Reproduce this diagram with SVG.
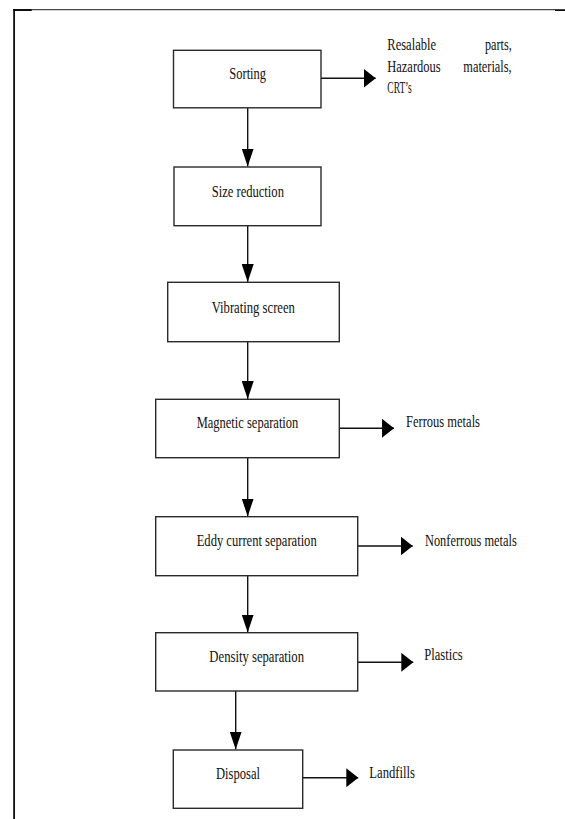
<svg xmlns="http://www.w3.org/2000/svg" width="565" height="819" viewBox="0 0 565 819">
<style>
.box{fill:#fff;stroke:#2a2a2a;stroke-width:1.4}
.ln{stroke:#111;stroke-width:1.4;fill:none}
text{font-family:"Liberation Serif","Times New Roman",serif;font-size:17px;fill:#111}
.c{text-anchor:middle}
.frame{stroke:#000;fill:none}
</style>
<defs>
<marker id="ad" markerWidth="18" markerHeight="12" refX="18" refY="6" orient="auto" markerUnits="userSpaceOnUse"><path d="M0,0 L18,6 L0,12 z" fill="#000"/></marker>
<marker id="as" markerWidth="12" markerHeight="19" refX="12" refY="9.5" orient="auto" markerUnits="userSpaceOnUse"><path d="M0,0 L12,9.5 L0,19 z" fill="#000"/></marker>
</defs>
<rect width="565" height="819" fill="#fff"/>
<g id="frame">
<line class="frame" x1="14.1" y1="9" x2="14.1" y2="819" stroke-width="1.7"/>
<line class="frame" x1="13.3" y1="9.7" x2="555" y2="9.7" stroke-width="0.9"/>
<line class="frame" x1="13.3" y1="10.1" x2="31.7" y2="10.1" stroke-width="1.7"/>
<line class="frame" x1="555" y1="10.1" x2="565" y2="10.1" stroke-width="1.7"/>
</g>
<g id="connectors">
<line class="ln" x1="247.7" y1="108" x2="247.7" y2="166.5" marker-end="url(#ad)"/>
<line class="ln" x1="247.7" y1="226" x2="247.7" y2="282" marker-end="url(#ad)"/>
<line class="ln" x1="247.7" y1="342" x2="247.7" y2="399" marker-end="url(#ad)"/>
<line class="ln" x1="247.7" y1="458" x2="247.7" y2="516.5" marker-end="url(#ad)"/>
<line class="ln" x1="247.7" y1="576" x2="247.7" y2="632.5" marker-end="url(#ad)"/>
<line class="ln" x1="235.7" y1="691" x2="235.7" y2="749.5" marker-end="url(#ad)"/>
<line class="ln" x1="321" y1="78.3" x2="375.7" y2="78.3" marker-end="url(#as)"/>
<line class="ln" x1="339.3" y1="428.3" x2="394" y2="428.3" marker-end="url(#as)"/>
<line class="ln" x1="357.7" y1="546" x2="412.7" y2="546" marker-end="url(#as)"/>
<line class="ln" x1="357.7" y1="662.3" x2="413.3" y2="662.3" marker-end="url(#as)"/>
<line class="ln" x1="302.7" y1="777.7" x2="358.3" y2="777.7" marker-end="url(#as)"/>
</g>
<g id="sorting">
<rect class="box" x="173.5" y="50.3" width="147.5" height="57.5"/>
<text class="c" x="247.7" y="79" textLength="36.7" lengthAdjust="spacingAndGlyphs">Sorting</text>
</g>
<g id="size-reduction">
<rect class="box" x="174" y="167" width="147" height="58.7"/>
<text class="c" x="247.8" y="196.5" textLength="72.3" lengthAdjust="spacingAndGlyphs">Size reduction</text>
</g>
<g id="vibrating-screen">
<rect class="box" x="167.7" y="282.3" width="171.6" height="59.4"/>
<text class="c" x="253.3" y="312.5" textLength="83.3" lengthAdjust="spacingAndGlyphs">Vibrating screen</text>
</g>
<g id="magnetic-separation">
<rect class="box" x="155.7" y="399.3" width="183.6" height="58.4"/>
<text class="c" x="247.5" y="428" textLength="101.7" lengthAdjust="spacingAndGlyphs">Magnetic separation</text>
</g>
<g id="eddy-current-separation">
<rect class="box" x="155.7" y="516.7" width="202" height="59"/>
<text class="c" x="256.7" y="546" textLength="120" lengthAdjust="spacingAndGlyphs">Eddy current separation</text>
</g>
<g id="density-separation">
<rect class="box" x="155.7" y="632.7" width="202" height="58.3"/>
<text class="c" x="256.7" y="662.3" textLength="94.7" lengthAdjust="spacingAndGlyphs">Density separation</text>
</g>
<g id="disposal">
<rect class="box" x="173.3" y="750" width="129.4" height="58.3"/>
<text class="c" x="238" y="778.5" textLength="44" lengthAdjust="spacingAndGlyphs">Disposal</text>
</g>
<g id="out-sorting">
<text x="387.3" y="50.3" textLength="48.7" lengthAdjust="spacingAndGlyphs">Resalable</text>
<text x="485" y="50.3" textLength="26.7" lengthAdjust="spacingAndGlyphs">parts,</text>
<text x="387.3" y="71.8" textLength="53.3" lengthAdjust="spacingAndGlyphs">Hazardous</text>
<text x="463.3" y="71.8" textLength="48.4" lengthAdjust="spacingAndGlyphs">materials,</text>
<text x="387.3" y="93.3" textLength="24.3" lengthAdjust="spacingAndGlyphs">CRT’s</text>
</g>
<g id="out-ferrous">
<text x="406" y="427.3" textLength="74" lengthAdjust="spacingAndGlyphs">Ferrous metals</text>
</g>
<g id="out-nonferrous">
<text x="425" y="546" textLength="91.7" lengthAdjust="spacingAndGlyphs">Nonferrous metals</text>
</g>
<g id="out-plastics">
<text x="424.3" y="660.3" textLength="38.3" lengthAdjust="spacingAndGlyphs">Plastics</text>
</g>
<g id="out-landfills">
<text x="369.3" y="778" textLength="45.7" lengthAdjust="spacingAndGlyphs">Landfills</text>
</g>
</svg>
